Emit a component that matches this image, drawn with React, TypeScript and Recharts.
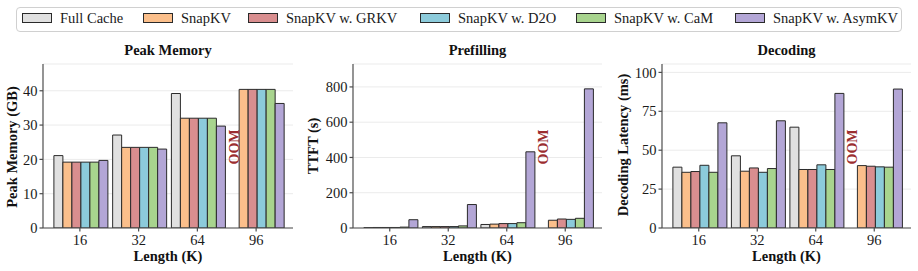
import React from 'react';
import { BarChart, Bar, XAxis, YAxis, CartesianGrid } from 'recharts';

const LENGTHS = ['16', '32', '64', '96'];
const METHODS = ['Full Cache', 'SnapKV', 'SnapKV w. GRKV', 'SnapKV w. D2O', 'SnapKV w. CaM', 'SnapKV w. AsymKV'];
const COLORS = ['#e0e0e0', '#fbbf8b', '#d98e8f', '#8ccbdb', '#a8d48e', '#b3a6d6'];

// Peak memory (GB), one row per method; Full Cache is OOM at 96K
const MEM_FULL = [21.1, 27.1, 39.2, null];
const MEM_SNAP = [19.2, 23.5, 32.0, 40.4];
const MEM_GRKV = [19.2, 23.5, 32.0, 40.4];
const MEM_D2O = [19.2, 23.5, 32.0, 40.4];
const MEM_CAM = [19.2, 23.5, 32.0, 40.4];
const MEM_ASYM = [19.7, 23.0, 29.7, 36.3];

// Time to first token (s)
const TTFT_FULL = [2, 8, 20, null];
const TTFT_SNAP = [3, 8, 22, 44];
const TTFT_GRKV = [3, 8, 25, 51];
const TTFT_D2O = [3, 8, 25, 49];
const TTFT_CAM = [5, 12, 30, 55];
const TTFT_ASYM = [47, 133, 432, 789];

// Decoding latency (ms)
const DEC_FULL = [39.1, 46.4, 64.8, null];
const DEC_SNAP = [35.8, 36.5, 37.6, 40.1];
const DEC_GRKV = [36.3, 38.6, 37.6, 39.7];
const DEC_D2O = [40.3, 35.8, 40.6, 39.3];
const DEC_CAM = [35.8, 38.2, 37.6, 39.1];
const DEC_ASYM = [67.6, 68.9, 86.5, 89.3];

const MEM_TICKS = [0, 10, 20, 30, 40];
const TTFT_TICKS = [0, 200, 400, 600, 800];
const DEC_TICKS = [0, 25, 50, 75, 100];

const FONT = '"Liberation Serif", "Times New Roman", serif';
const H = 271;
const PLOT_TOP = 64;
const PLOT_BOTTOM = 228;
const X_PAD = 7.5;
const GROUP_GAP = 3.4;

const toRows = (series: (number | null)[][]) =>
  LENGTHS.map((len, i) => {
    const row: Record<string, any> = { len };
    METHODS.forEach((m, j) => {
      row[m] = series[j][i];
    });
    return row;
  });

type PanelProps = {
  left: number;
  width: number;
  plotLeft: number;
  plotWidth: number;
  yMax: number;
  ticks: number[];
  series: (number | null)[][];
};

const Panel = ({ left, width, plotLeft, plotWidth, yMax, ticks, series }: PanelProps) => {
  const axisW = 30;
  const axisH = 30;
  return (
    <div style={{ position: 'absolute', left, top: 0 }}>
      <BarChart
        width={width}
        height={H}
        data={toRows(series)}
        margin={{
          top: PLOT_TOP,
          left: plotLeft - axisW,
          right: width - plotLeft - plotWidth,
          bottom: H - PLOT_BOTTOM - axisH,
        }}
        barCategoryGap={GROUP_GAP}
        barGap={0}
      >
        <CartesianGrid vertical={false} stroke="#ebebeb" strokeWidth={1} />
        <XAxis
          dataKey="len"
          height={axisH}
          padding={{ left: X_PAD, right: X_PAD }}
          stroke="#4d4d4d"
          strokeWidth={1.2}
          tickSize={3.5}
          tickMargin={3.3}
          tick={{ fill: '#1a1a1a', fontSize: 14.5, fontFamily: FONT }}
        />
        <YAxis
          width={axisW}
          domain={[0, yMax]}
          ticks={ticks}
          allowDataOverflow
          stroke="#4d4d4d"
          strokeWidth={1.2}
          tickSize={3.5}
          tickMargin={2}
          tick={{ fill: '#1a1a1a', fontSize: 14.5, fontFamily: FONT }}
        />
        {METHODS.map((m, j) => (
          <Bar
            key={m}
            dataKey={m}
            fill={COLORS[j]}
            stroke="#2a2a2a"
            strokeWidth={1}
            isAnimationActive={false}
          />
        ))}
      </BarChart>
    </div>
  );
};

const PANELS = [
  {
    left: 0, width: 300, plotLeft: 43, plotWidth: 250, yMax: 47.8, ticks: MEM_TICKS,
    series: [MEM_FULL, MEM_SNAP, MEM_GRKV, MEM_D2O, MEM_CAM, MEM_ASYM],
    title: 'Peak Memory', yLabel: 'Peak Memory (GB)', yLabelX: 17, yLabelY: 147,
  },
  {
    left: 300, width: 310, plotLeft: 53, plotWidth: 249, yMax: 930, ticks: TTFT_TICKS,
    series: [TTFT_FULL, TTFT_SNAP, TTFT_GRKV, TTFT_D2O, TTFT_CAM, TTFT_ASYM],
    title: 'Prefilling', yLabel: 'TTFT (s)', yLabelX: 318, yLabelY: 146,
  },
  {
    left: 600, width: 318, plotLeft: 62, plotWidth: 249, yMax: 105.4, ticks: DEC_TICKS,
    series: [DEC_FULL, DEC_SNAP, DEC_GRKV, DEC_D2O, DEC_CAM, DEC_ASYM],
    title: 'Decoding', yLabel: 'Decoding Latency (ms)', yLabelX: 628, yLabelY: 145,
  },
];

// swatch left edges of the shared legend
const LEGEND_X = [22, 143, 248, 420, 576, 735];

export default function App() {
  return (
    <div style={{ position: 'absolute', left: 0, top: 0, width: 918, height: H, background: '#fff', fontFamily: FONT }}>
      {PANELS.map((p) => (
        <Panel key={p.title} {...p} />
      ))}
      <div
        style={{
          position: 'absolute', left: 16, top: 7, width: 886, height: 25,
          border: '1px solid #d0d0d0', borderRadius: 4, boxSizing: 'border-box',
        }}
      />
      {METHODS.map((m, j) => (
        <div key={m} style={{ position: 'absolute', left: LEGEND_X[j], top: 10, height: 16, display: 'flex', alignItems: 'center' }}>
          <div style={{ width: 30, height: 10, background: COLORS[j], border: '1px solid #2a2a2a', boxSizing: 'border-box' }} />
          <span style={{ marginLeft: 8, fontSize: 14.5, color: '#1a1a1a', whiteSpace: 'nowrap' }}>{m}</span>
        </div>
      ))}
      <svg width={918} height={H} style={{ position: 'absolute', left: 0, top: 0, pointerEvents: 'none' }}>
        {PANELS.map((p) => {
          const x0 = p.left + p.plotLeft;
          const cx = x0 + p.plotWidth / 2;
          const band = (p.plotWidth - 2 * X_PAD) / LENGTHS.length;
          const barW = (band - 2 * GROUP_GAP) / METHODS.length;
          // OOM marker sits in the Full Cache slot of the 96K group
          const oomX = x0 + X_PAD + band * 3.5 - 2.5 * barW;
          return (
            <g key={p.title} fontFamily={FONT} fontWeight="bold" fontSize={14.5} fill="#111">
              <text x={cx} y={55} textAnchor="middle">{p.title}</text>
              <text x={cx} y={261} textAnchor="middle">Length (K)</text>
              <text x={p.yLabelX} y={p.yLabelY} textAnchor="middle" transform={`rotate(-90 ${p.yLabelX} ${p.yLabelY})`}>
                {p.yLabel}
              </text>
              <text
                x={oomX}
                y={147}
                textAnchor="middle"
                dominantBaseline="central"
                fill="#9b2d30"
                fontSize={14}
                transform={`rotate(-90 ${oomX} 147)`}
              >
                OOM
              </text>
            </g>
          );
        })}
      </svg>
    </div>
  );
}
